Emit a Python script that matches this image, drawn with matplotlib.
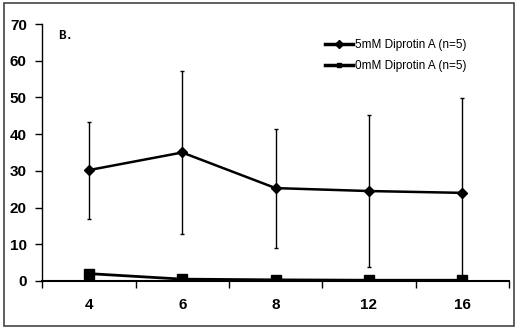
import matplotlib
matplotlib.use("Agg")
import matplotlib.pyplot as plt
import numpy as np
from matplotlib.patches import Rectangle
from matplotlib.lines import Line2D

categories = ["4", "6", "8", "12", "16"]
dip5_mean = [30.2, 35.0, 25.3, 24.5, 24.0]
dip5_err = [13.2, 22.2, 16.2, 20.6, 25.9]
dip0_mean = [2.0, 0.5, 0.3, 0.2, 0.2]

plt.rcParams['font.family'] = ['Liberation Sans', 'DejaVu Sans']
fig = plt.figure(figsize=(5.2, 3.29), dpi=100)
ax = fig.add_axes([0.081, 0.146, 0.898, 0.781])

x = np.arange(len(categories))
lower = np.minimum(dip5_err, dip5_mean)
ax.errorbar(x, dip5_mean, yerr=[lower, dip5_err], color='black', lw=1.8,
            marker='D', ms=5, ecolor='black', elinewidth=1, capsize=1.5, capthick=1,
            zorder=3)
ax.plot(x, dip0_mean, color='black', lw=2, marker='s', ms=7, zorder=4)

ax.set_xlim(-0.5, 4.5)
ax.set_ylim(0, 70)
ax.set_yticks(range(0, 71, 10))
ax.set_xticks(x)
ax.set_xticklabels(categories)
ax.set_xticks(np.arange(-0.5, 4.6, 1), minor=True)
ax.tick_params(axis='x', which='major', length=0, pad=12)
ax.tick_params(axis='x', which='minor', length=5, direction='out', width=1)
ax.tick_params(axis='y', length=5, direction='out', width=1, pad=6)
for lab in ax.get_xticklabels() + ax.get_yticklabels():
    lab.set_fontweight('bold')
    lab.set_fontsize(11)
for s in ['top', 'right']:
    ax.spines[s].set_visible(False)
ax.spines['left'].set_linewidth(1)
ax.spines['bottom'].set_linewidth(1.5)

ax.text(0.035, 0.975, 'B.', transform=ax.transAxes, family='Liberation Mono',
        fontsize=9, fontweight='bold', va='top')

handles = [Line2D([], [], color='black', lw=2.5, marker='D', ms=4),
           Line2D([], [], color='black', lw=2.5, marker='s', ms=3)]
labels = ['5mM Diprotin A (n=5)', '0mM Diprotin A (n=5)']
leg = ax.legend(handles, labels, loc='upper left', bbox_to_anchor=(0.595, 0.96),
                frameon=False, fontsize=8.5, handlelength=2.4, handletextpad=0.15,
                labelspacing=0.75, borderaxespad=0)

fig.patches.append(Rectangle((0.008, 0.008), 0.98, 0.984, transform=fig.transFigure,
                             fill=False, edgecolor='#444444', lw=1.2))
fig.savefig('out.png', dpi=100)
